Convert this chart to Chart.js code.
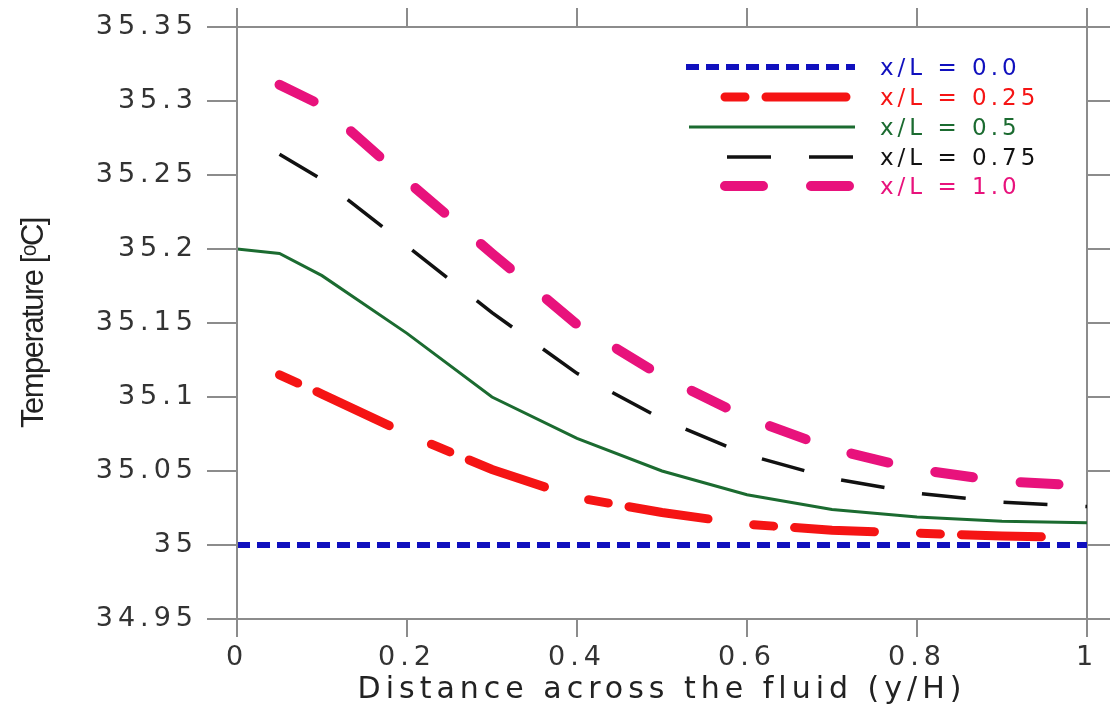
<!DOCTYPE html>
<html>
<head>
<meta charset="utf-8">
<script src="https://cdn.jsdelivr.net/npm/chart.js@4.4.1/dist/chart.umd.min.js"></script>
<style>
  html, body { margin: 0; padding: 0; background: #fff; }
  #chart { display: block; }
</style>
</head>
<body>
<canvas id="chart" width="1110" height="717"></canvas>
<script>
const POSITIONS = [0, 0.05, 0.1, 0.2, 0.3, 0.4, 0.5, 0.6, 0.7, 0.8, 0.9, 1.0];

const T_00  = [35, 35, 35, 35, 35, 35, 35, 35, 35, 35, 35, 35];
const T_025 = [null, 35.115, 35.102, 35.075, 35.051, 35.032, 35.022, 35.014, 35.010, 35.008, 35.006, 35.005];
const T_05  = [35.2, 35.197, 35.182, 35.143, 35.100, 35.072, 35.050, 35.034, 35.024, 35.019, 35.016, 35.015];
const T_075 = [null, 35.264, 35.247, 35.202, 35.157, 35.116, 35.085, 35.061, 35.045, 35.035, 35.029, 35.026];
const T_10  = [null, 35.311, 35.297, 35.246, 35.197, 35.149, 35.114, 35.086, 35.065, 35.051, 35.043, 35.040];

const SERIES_LABELS = ['x/L = 0.0', 'x/L = 0.25', 'x/L = 0.5', 'x/L = 0.75', 'x/L = 1.0'];
const Y_TICKS = { min: 34.95, max: 35.35, step: 0.05 };
const X_TICKS = { min: 0, max: 1, step: 0.2 };

const AXIS_GREY = '#8c8c8c';
const TEXT_FONT = 'DejaVu Sans';

function toPoints(values) {
  return POSITIONS.map((x, i) => ({ x: x, y: values[i] }));
}

// wide, tracked-out text like the stretched original; the y title is squeezed instead
const spacingPlugin = {
  id: 'spacing',
  beforeDraw(chart) { chart.ctx.letterSpacing = '5px'; },
  afterDatasetsDraw(chart) { chart.ctx.letterSpacing = '-1.5px'; }
};

// legend block inside the plot, top right
const legendPlugin = {
  id: 'insideLegend',
  afterDraw(chart) {
    const ctx = chart.ctx;
    const rows = [67, 97, 127, 157, 186];
    const lineStart = [686, 725, 689, 727, 725];
    ctx.save();
    ctx.letterSpacing = '4px';
    ctx.font = '23px ' + TEXT_FONT;
    ctx.textBaseline = 'middle';
    ctx.textAlign = 'left';
    chart.data.datasets.forEach((ds, i) => {
      const y = rows[i];
      ctx.beginPath();
      ctx.setLineDash(ds.borderDash || []);
      ctx.lineCap = ds.borderCapStyle || 'butt';
      ctx.lineWidth = ds.borderWidth;
      ctx.strokeStyle = ds.borderColor;
      ctx.moveTo(lineStart[i], y);
      ctx.lineTo(855, y);
      ctx.stroke();
      ctx.fillStyle = ds.borderColor;
      ctx.fillText(ds.label, 880, y + 2);
    });
    ctx.restore();
  }
};

const ctx = document.getElementById('chart').getContext('2d');

new Chart(ctx, {
  type: 'line',
  data: {
    datasets: [
      { label: SERIES_LABELS[0], data: toPoints(T_00),  borderColor: '#1010be', borderWidth: 6, borderDash: [13, 7] },
      { label: SERIES_LABELS[1], data: toPoints(T_025), borderColor: '#f51414', borderWidth: 9, borderDash: [20, 21, 80, 46], borderCapStyle: 'round' },
      { label: SERIES_LABELS[2], data: toPoints(T_05),  borderColor: '#1b6b30', borderWidth: 3 },
      { label: SERIES_LABELS[3], data: toPoints(T_075), borderColor: '#111111', borderWidth: 3.5, borderDash: [44, 38] },
      { label: SERIES_LABELS[4], data: toPoints(T_10),  borderColor: '#e8127c', borderWidth: 10, borderDash: [38, 48], borderCapStyle: 'round' }
    ]
  },
  options: {
    responsive: false,
    animation: false,
    devicePixelRatio: 1,
    layout: { padding: 0 },
    elements: { point: { radius: 0 }, line: { tension: 0 } },
    plugins: { legend: { display: false }, tooltip: { enabled: false } },
    scales: {
      x: {
        type: 'linear', position: 'bottom',
        min: X_TICKS.min, max: X_TICKS.max,
        ticks: {
          stepSize: X_TICKS.step, color: '#333', padding: 5,
          font: { family: TEXT_FONT, size: 27 },
          callback: v => String(Number(v.toFixed(1)))
        },
        grid: { drawOnChartArea: false, tickLength: 18, color: AXIS_GREY, lineWidth: 2 },
        border: { color: AXIS_GREY, width: 2 },
        title: {
          display: true, text: 'Distance across the fluid (y/H)', color: '#222',
          font: { family: TEXT_FONT, size: 30 }, padding: { top: 0, bottom: 9 }
        },
        afterFit: s => { s.height = 98; }
      },
      xTop: {
        type: 'linear', position: 'top',
        min: X_TICKS.min, max: X_TICKS.max,
        ticks: { stepSize: X_TICKS.step, display: false },
        grid: { drawOnChartArea: false, tickLength: 19, color: AXIS_GREY, lineWidth: 2 },
        border: { color: AXIS_GREY, width: 2 },
        afterFit: s => { s.height = 27; }
      },
      y: {
        type: 'linear', position: 'left',
        min: Y_TICKS.min, max: Y_TICKS.max,
        ticks: {
          stepSize: Y_TICKS.step, color: '#333', padding: 9,
          font: { family: TEXT_FONT, size: 27 },
          callback: v => String(Number(v.toFixed(2)))
        },
        grid: { drawOnChartArea: false, tickLength: 30, color: AXIS_GREY, lineWidth: 2, z: 1 },
        border: { color: AXIS_GREY, width: 2, z: 1 },
        title: {
          display: true, text: 'Temperature [ᵒC]', color: '#222',
          font: { family: 'Liberation Sans', size: 31 }, padding: { top: 16, bottom: 0 }
        },
        afterFit: s => { s.width = 237; }
      },
      yRight: {
        type: 'linear', position: 'right',
        min: Y_TICKS.min, max: Y_TICKS.max,
        ticks: { stepSize: Y_TICKS.step, display: false },
        grid: { drawOnChartArea: false, tickLength: 23, color: AXIS_GREY, lineWidth: 2 },
        border: { color: AXIS_GREY, width: 2 },
        afterFit: s => { s.width = 23; }
      }
    }
  },
  plugins: [spacingPlugin, legendPlugin]
});
</script>
</body>
</html>
